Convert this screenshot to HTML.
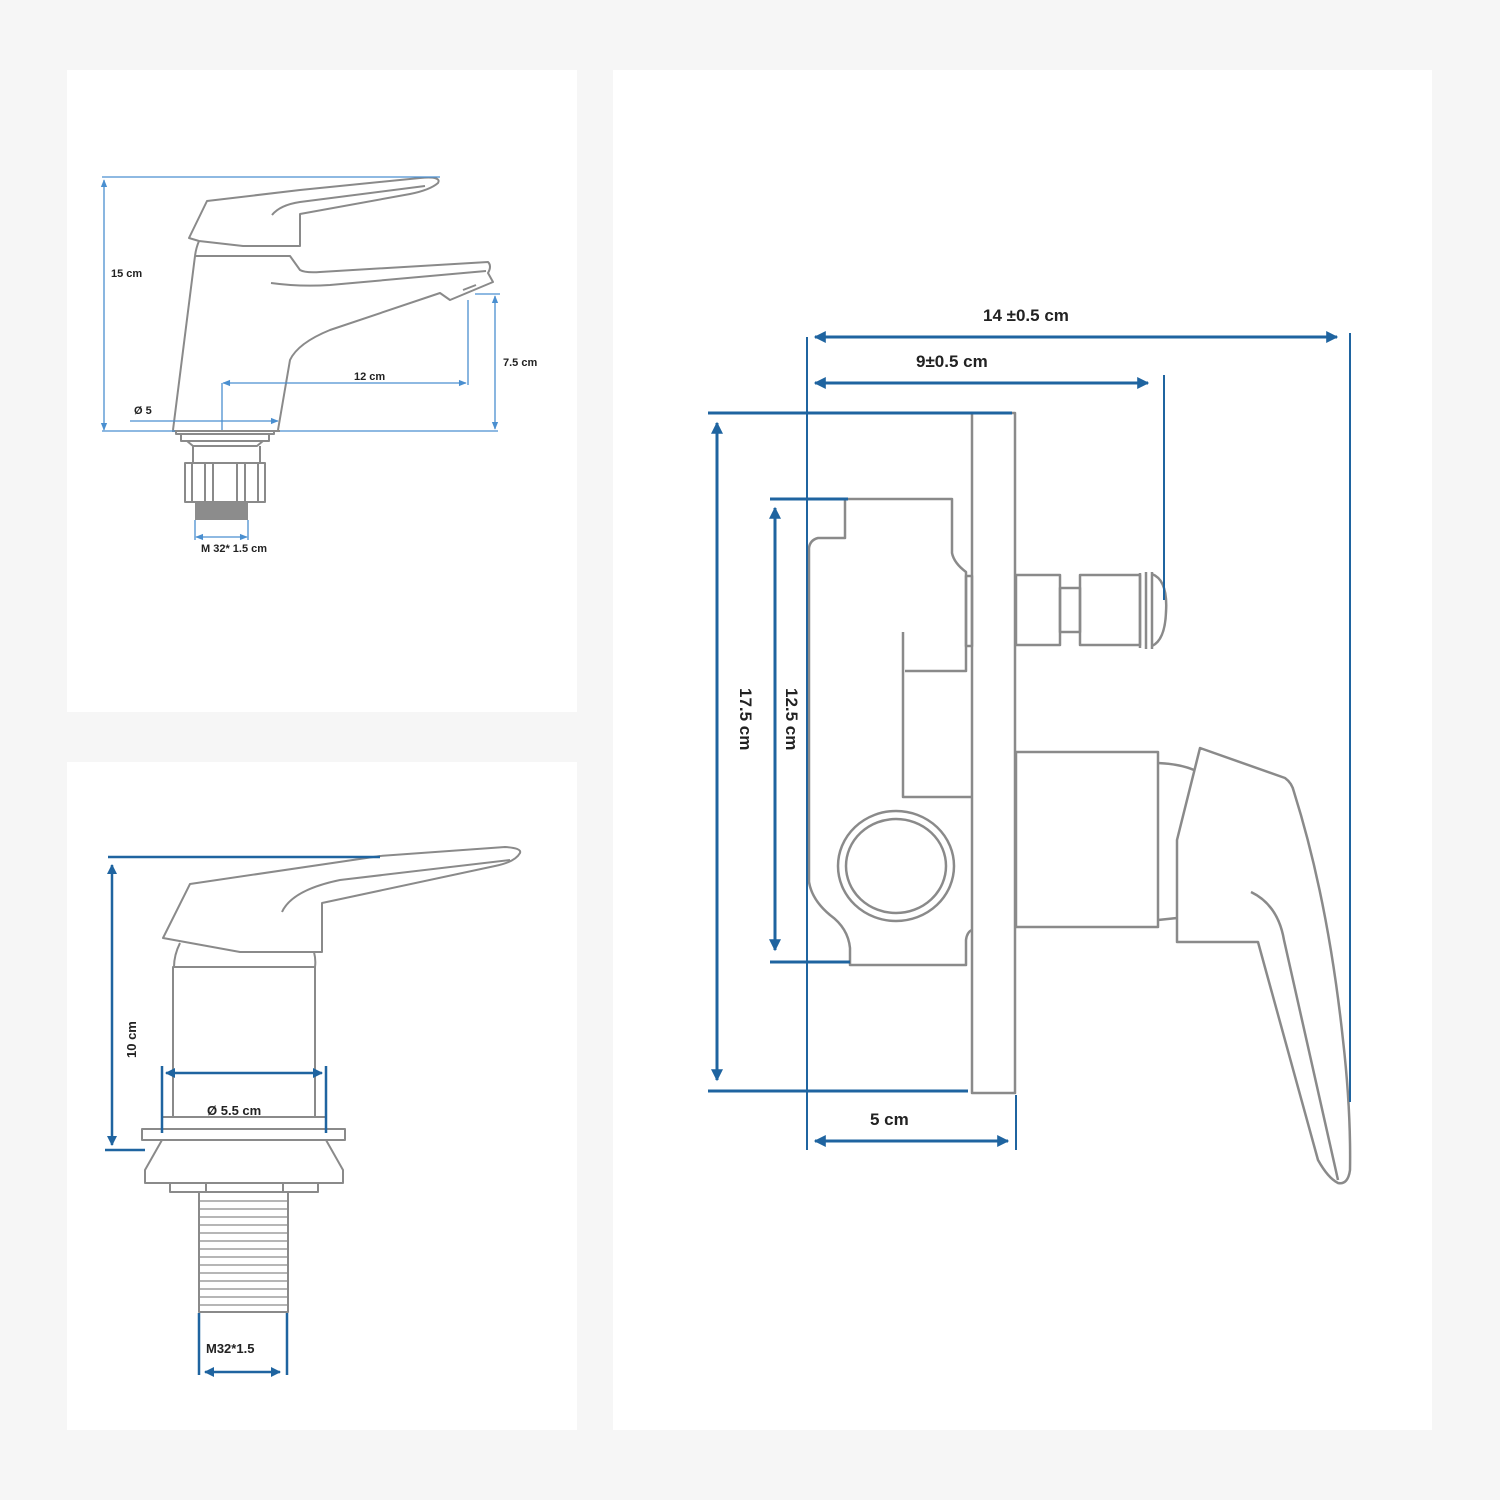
<!DOCTYPE html>
<html><head><meta charset="utf-8"><style>
html,body{margin:0;padding:0;background:#f6f6f6;}
svg{display:block}
text{font-family:"Liberation Sans",sans-serif;font-weight:bold;fill:#222}
</style></head><body>
<svg width="1500" height="1500" viewBox="0 0 1500 1500" xmlns="http://www.w3.org/2000/svg">
<defs>
<marker id="a" viewBox="0 0 10 10" refX="9" refY="5" markerWidth="5" markerHeight="4" orient="auto-start-reverse" markerUnits="strokeWidth"><path d="M0,0 L10,5 L0,10 z" fill="#1f64a0"/></marker>
<marker id="s" viewBox="0 0 10 10" refX="9" refY="5" markerWidth="8" markerHeight="6" orient="auto-start-reverse" markerUnits="strokeWidth"><path d="M0,1 L10,5 L0,9 z" fill="#4a8fd0"/></marker>
</defs>
<rect x="0" y="0" width="1500" height="1500" fill="#f6f6f6"/>
<rect x="67" y="70" width="510" height="642" fill="#fff"/>
<rect x="67" y="762" width="510" height="668" fill="#fff"/>
<rect x="613" y="70" width="819" height="1360" fill="#fff"/>

<!-- TOP LEFT faucet -->
<g fill="none" stroke="#8a8a8a" stroke-width="2" stroke-linejoin="round">
<path d="M189,238 L207,201 L300,190 L420,178 Q442,176 438,183 Q430,190 410,194 L300,214 L300,246 L243,246 L199,241 Z"/>
<path d="M272,215 Q280,205 300,202 L425,186"/>
<path d="M199,241 Q196,248 195,256"/>
<path d="M195,256 L173,430 M195,256 L290,256 L300,270 Q305,273 320,272 L488,262 Q492,266 488,273 L493,282 L450,300 L440,293 L330,330 Q298,343 290,360 L278,430"/>
<path d="M271,283 Q300,287 330,285 L486,271"/>
<path d="M463,290 L476,285"/>
<path d="M172,431 L280,431 M176,431 L176,434 L274,434 L274,431"/>
<path d="M181,434 L181,441 L269,441 L269,434 M187,441 L193,446 L257,446 L263,441 M193,446 L193,463 M260,446 L260,463"/>
<rect x="185" y="463" width="80" height="39"/>
<path d="M192,463 V502 M205,463 V502 M213,463 V502 M237,463 V502 M245,463 V502 M258,463 V502"/>
</g>
<rect x="195" y="502" width="53" height="18" fill="#8c8c8c"/>
<g stroke="#4a8fd0" stroke-width="1.3" fill="none">
<path d="M102,177 L440,177"/>
<path d="M104,180 L104,430" marker-start="url(#s)" marker-end="url(#s)"/>
<path d="M102,431 L175,431 M280,431 L498,431"/>
<path d="M495,296 L495,429" marker-start="url(#s)" marker-end="url(#s)"/>
<path d="M475,294 L500,294"/>
<path d="M468,300 L468,385"/>
<path d="M223,383 L466,383" marker-start="url(#s)" marker-end="url(#s)"/>
<path d="M222,383 L222,430"/>
<path d="M130,421 L278,421" marker-end="url(#s)"/>
<path d="M195,520 V540 M248,520 V540"/>
<path d="M196,537 L247,537" marker-start="url(#s)" marker-end="url(#s)"/>
</g>
<text x="111" y="277" font-size="11">15 cm</text>
<text x="503" y="366" font-size="11">7.5 cm</text>
<text x="354" y="380" font-size="11">12 cm</text>
<text x="134" y="414" font-size="11">Ø 5</text>
<text x="201" y="552" font-size="11">M 32* 1.5 cm</text>

<!-- BOTTOM LEFT -->
<g fill="none" stroke="#8a8a8a" stroke-width="2" stroke-linejoin="round">
<path d="M163,938 L190,884 L380,856 L505,847 Q522,848 520,853 Q515,862 495,866 L322,903 L322,952 L240,952 Z"/>
<path d="M282,912 Q292,890 340,880 L510,860"/>
<path d="M180,943 Q174,955 174,967 M314,952 Q316,960 315,967"/>
<rect x="173" y="967" width="142" height="150"/>
<rect x="162" y="1117" width="164" height="12"/>
<rect x="142" y="1129" width="203" height="11"/>
<path d="M162,1140 L145,1170 L145,1183 L343,1183 L343,1170 L326,1140"/>
<path d="M170,1183 L170,1192 L318,1192 L318,1183 M206,1183 V1192 M283,1183 V1192"/>
<rect x="199" y="1192" width="89" height="120"/>
<path d="M199,1201 H288 M199,1209 H288 M199,1217 H288 M199,1225 H288 M199,1233 H288 M199,1241 H288 M199,1249 H288 M199,1257 H288 M199,1265 H288 M199,1273 H288 M199,1281 H288 M199,1289 H288 M199,1297 H288 M199,1305 H288" stroke-width="1.3"/>
</g>
<g stroke="#1f64a0" stroke-width="2.5" fill="none">
<path d="M108,857 L380,857"/>
<path d="M112,865 L112,1145" marker-start="url(#a)" marker-end="url(#a)"/>
<path d="M105,1150 L145,1150"/>
<path d="M162,1066 V1133 M326,1066 V1133"/>
<path d="M166,1073 L322,1073" marker-start="url(#a)" marker-end="url(#a)"/>
<path d="M199,1313 V1375 M287,1313 V1375"/>
<path d="M205,1372 L280,1372" marker-start="url(#a)" marker-end="url(#a)"/>
</g>
<text x="0" y="0" font-size="13" transform="translate(136,1058) rotate(-90)">10 cm</text>
<text x="207" y="1115" font-size="13">Ø 5.5  cm</text>
<text x="206" y="1353" font-size="13">M32*1.5</text>

<!-- RIGHT -->
<g fill="none" stroke="#8a8a8a" stroke-width="2.5" stroke-linejoin="round">
<rect x="972" y="413" width="43" height="680"/>
<path d="M848,499 L952,499 L952,553 Q954,563 966,572 L966,671 L905,671 M903,632 L903,797 L972,797"/>
<rect x="966" y="576" width="6" height="70"/>
<path d="M845,499 L845,538 L818,538 Q810,540 809,548 L809,882 Q812,900 830,915 Q848,928 850,948 L850,965 L966,965 L966,940 Q967,932 972,930"/>
<ellipse cx="896" cy="866" rx="58" ry="55"/>
<ellipse cx="896" cy="866" rx="50" ry="47"/>
<rect x="1016" y="575" width="44" height="70"/>
<rect x="1060" y="588" width="20" height="44"/>
<rect x="1080" y="575" width="60" height="70"/>
<path d="M1140,573 L1140,648 M1146,572 L1146,649 M1152,572 L1152,649 M1152,574 Q1168,580 1166,612 Q1165,640 1152,646"/>
<rect x="1016" y="752" width="142" height="175"/>
<path d="M1158,763 Q1180,764 1194,770 M1158,920 L1177,918"/>
<path d="M1200,748 L1285,778 Q1292,783 1294,792 Q1328,900 1343,1040 Q1351,1110 1350,1170 Q1348,1185 1338,1183 Q1328,1178 1318,1160 L1258,942 L1177,942 L1177,840 Z"/>
<path d="M1251,892 Q1278,905 1284,940 L1338,1180"/>
</g>
<g stroke="#1f64a0" stroke-width="3" fill="none">
<path d="M807,337 L807,1150" stroke-width="2"/>
<path d="M815,337 L1337,337" marker-start="url(#a)" marker-end="url(#a)"/>
<path d="M815,383 L1148,383" marker-start="url(#a)" marker-end="url(#a)"/>
<path d="M1164,375 L1164,600" stroke-width="2"/>
<path d="M1350,333 L1350,1102" stroke-width="2"/>
<path d="M708,413 L1012,413"/>
<path d="M717,423 L717,1080" marker-start="url(#a)" marker-end="url(#a)"/>
<path d="M708,1091 L968,1091"/>
<path d="M770,499 L848,499"/>
<path d="M775,508 L775,950" marker-start="url(#a)" marker-end="url(#a)"/>
<path d="M770,962 L850,962"/>
<path d="M815,1141 L1008,1141" marker-start="url(#a)" marker-end="url(#a)"/>
<path d="M1016,1095 L1016,1150" stroke-width="2"/>
</g>
<text x="983" y="321" font-size="17">14 ±0.5  cm</text>
<text x="916" y="367" font-size="17">9±0.5  cm</text>
<text x="870" y="1125" font-size="17">5  cm</text>
<text x="0" y="0" font-size="17" transform="translate(740,688) rotate(90)">17.5  cm</text>
<text x="0" y="0" font-size="17" transform="translate(786,688) rotate(90)">12.5  cm</text>
</svg>
</body></html>
